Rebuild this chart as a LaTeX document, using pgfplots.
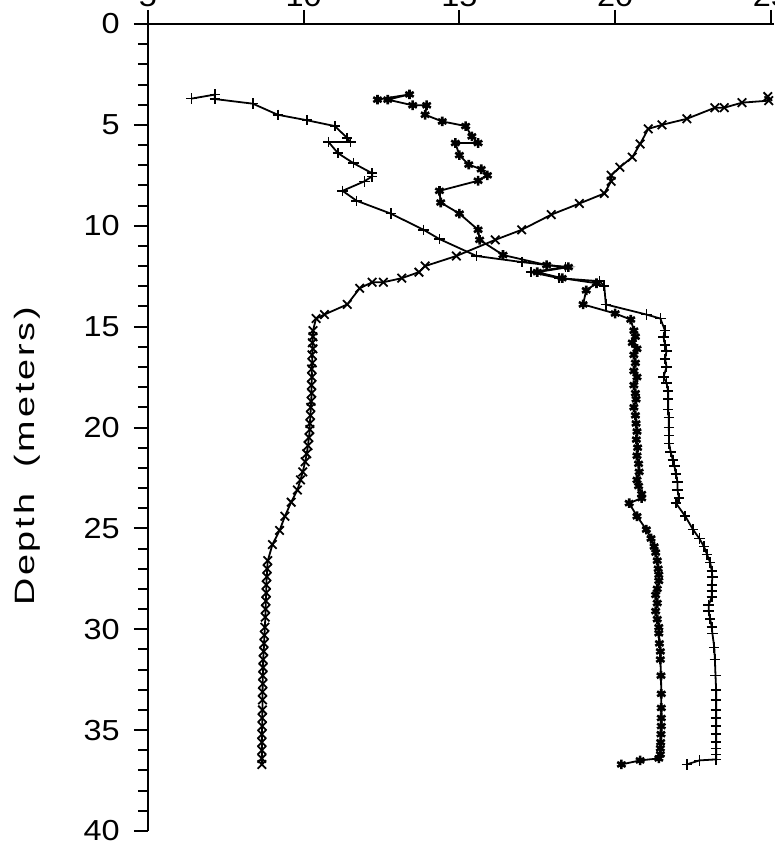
\documentclass[border=0pt]{standalone}
\usepackage{fontspec}
\setmainfont{Liberation Sans}[FakeStretch=1.12]
\newfontfamily\labfont{Liberation Sans}[FakeStretch=1.35,LetterSpace=10]
\usepackage{pgfplots}
\pgfplotsset{compat=1.18}
\begin{document}
\begin{tikzpicture}
\begin{axis}[
  width=313.5pt, height=404pt, scale only axis,
  xmin=5, xmax=25.1, ymin=0, ymax=40,
  y dir=reverse,
  axis x line*=top, axis y line*=left,
  axis line style={line width=1.2pt},
  xtick={5,10,15,20,25}, ytick={0,5,...,40},
  minor y tick num=4,
  tick align=outside,
  major tick length=7pt, minor tick length=5pt,
  every tick/.style={line width=1pt, black},
  /pgf/number format/assume math mode=true,
  tick label style={font=\fontsize{14.5}{16}\selectfont},
  xticklabel style={inner sep=1.5pt},
  yticklabel style={xshift=-3.5pt},
  ylabel={\labfont Depth\ \ (meters)},
  ylabel style={at={(axis description cs:-0.193,0.464)}, anchor=center, font=\fontsize{14}{16}\selectfont},
  every axis plot/.append style={line width=0.9pt, black},
]
% Series with + markers
\addplot[mark=+, mark size=2.6pt, mark options={solid, line width=0.8pt}] coordinates {
(6.4,3.7)(7.15,3.5)(7.15,3.72)(8.37,3.95)(9.17,4.5)(10.1,4.77)(11.0,5.06)(11.4,5.65)(11.5,5.85)(10.8,5.85)
(11.1,6.4)(11.6,6.9)(12.2,7.4)(12.2,7.55)(11.95,7.8)(11.25,8.27)(11.7,8.76)(12.8,9.4)(13.85,10.2)(14.36,10.66)
(15.55,11.5)(17.0,11.8)(18.4,12.05)(17.3,12.3)(18.2,12.6)(19.5,12.75)(19.65,13.0)(19.7,13.9)(21.0,14.4)(21.45,14.6)
(21.6,15.2)(21.55,15.5)(21.6,15.9)(21.65,16.2)(21.6,16.6)(21.65,17.0)(21.55,17.5)(21.65,17.8)(21.7,18.2)(21.7,18.6)
(21.7,19.1)(21.72,19.5)(21.72,20.0)(21.73,20.4)(21.73,20.8)(21.78,21.2)(21.85,21.6)(21.9,21.9)(21.95,22.3)(22.0,22.7)
(22.0,23.1)(22.05,23.5)(21.95,23.75)(22.25,24.4)(22.5,25.06)(22.7,25.5)(22.85,25.9)(22.95,26.3)(23.05,26.7)(23.1,27.1)
(23.12,27.4)(23.1,27.8)(23.1,28.1)(23.1,28.4)(23.0,28.8)(23.0,29.1)(23.05,29.5)(23.1,29.9)(23.12,30.2)(23.18,30.9)
(23.2,31.5)(23.22,32.3)(23.24,33.0)(23.24,33.5)(23.24,34.0)(23.24,34.4)(23.24,34.8)(23.24,35.2)(23.24,35.6)(23.24,35.9)
(23.24,36.2)(23.24,36.45)(22.7,36.5)(22.3,36.7)
};
% Series with filled star markers
\addplot[mark=asterisk, mark size=2.4pt, mark options={solid, line width=1.3pt}] coordinates {
(12.37,3.75)(13.4,3.49)(12.7,3.75)(13.5,4.03)(13.95,4.03)(13.9,4.5)(14.45,4.83)(15.2,5.06)(15.4,5.57)(15.6,5.9)
(14.87,5.9)(15.0,6.5)(15.3,6.97)(15.7,7.2)(15.9,7.5)(15.6,7.77)(14.36,8.27)(14.4,8.85)(15.0,9.4)(15.6,10.2)
(15.65,10.7)(16.4,11.45)(17.8,11.95)(18.5,12.05)(17.5,12.3)(18.3,12.6)(19.4,12.85)(19.07,13.2)(18.97,13.9)(20.0,14.35)
(20.5,14.65)(20.6,15.2)(20.65,15.5)(20.55,15.8)(20.7,16.1)(20.6,16.4)(20.65,16.8)(20.6,17.2)(20.7,17.5)(20.6,17.9)
(20.65,18.3)(20.67,18.6)(20.6,19.0)(20.65,19.4)(20.67,19.8)(20.7,20.2)(20.68,20.6)(20.72,21.0)(20.7,21.4)(20.75,21.8)
(20.77,22.2)(20.7,22.6)(20.75,22.9)(20.85,23.3)(20.85,23.5)(20.45,23.75)(20.7,24.4)(21.0,25.06)(21.15,25.5)(21.25,25.9)
(21.3,26.2)(21.35,26.6)(21.38,27.0)(21.4,27.3)(21.4,27.6)(21.35,28.0)(21.3,28.3)(21.35,28.7)(21.3,29.1)(21.35,29.5)
(21.4,29.9)(21.4,30.2)(21.42,30.7)(21.45,31.1)(21.45,31.5)(21.47,32.3)(21.48,33.2)(21.48,33.9)(21.48,34.4)(21.48,34.8)
(21.47,35.2)(21.46,35.6)(21.45,35.9)(21.45,36.2)(21.4,36.4)(20.8,36.5)(20.2,36.7)
};
% Series with x markers
\addplot[mark=x, mark size=3pt, mark options={solid, line width=0.9pt}] coordinates {
(24.9,3.6)(24.93,3.8)(24.07,3.9)(23.5,4.15)(23.2,4.15)(22.3,4.7)(21.5,5.0)(21.06,5.2)(20.8,5.95)(20.55,6.6)
(20.15,7.1)(19.87,7.5)(19.87,7.8)(19.65,8.4)(18.85,8.9)(17.95,9.45)(17.0,10.2)(16.15,10.7)(14.9,11.5)(13.9,12.0)
(13.7,12.3)(13.15,12.6)(12.56,12.8)(12.2,12.8)(11.8,13.1)(11.4,13.9)(10.67,14.4)(10.4,14.6)
(10.3,15.2)(10.3,15.5)(10.28,15.8)(10.3,16.1)(10.27,16.4)(10.28,16.8)(10.26,17.1)(10.27,17.5)(10.25,17.9)(10.26,18.3)
(10.24,18.7)(10.23,19.0)(10.22,19.4)(10.2,19.8)(10.2,20.1)(10.17,20.5)(10.14,20.9)(10.1,21.3)(10.05,21.7)(9.97,22.2)
(9.9,22.6)(9.8,23.1)(9.6,23.7)(9.4,24.4)(9.23,25.1)(9.0,25.8)(8.85,26.6)(8.83,27.0)(8.82,27.4)(8.8,27.8)
(8.8,28.2)(8.79,28.6)(8.78,29.0)(8.77,29.4)(8.76,29.9)(8.74,30.3)(8.73,30.7)(8.72,31.1)(8.7,31.5)(8.7,31.9)
(8.69,32.3)(8.69,32.7)(8.68,33.1)(8.68,33.5)(8.68,34.0)(8.67,34.4)(8.67,34.8)(8.66,35.2)(8.66,35.6)(8.66,36.0)
(8.66,36.4)(8.66,36.7)
};
\end{axis}
\pgfresetboundingbox
\path[use as bounding box] ([shift={(-74pt,12pt)}]current axis.north west) rectangle ([shift={(0pt,-7pt)}]current axis.south east);
\end{tikzpicture}
\end{document}
